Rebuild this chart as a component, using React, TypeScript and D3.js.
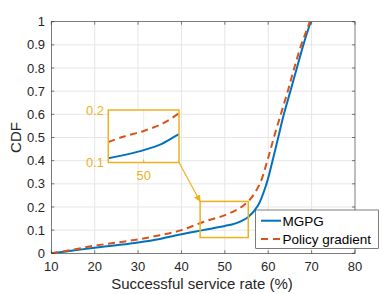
import React from "react";
import * as d3 from "d3";

const mgpgX = [10, 15, 20, 25, 30, 35, 40, 45, 50, 52.3, 55.4, 57.6, 59.6, 61, 62.3, 63.6, 65.1, 66.6, 68.1, 69.1, 69.8];
const mgpgY = [0, 0.012, 0.024, 0.035, 0.047, 0.062, 0.082, 0.1, 0.118, 0.128, 0.157, 0.205, 0.3, 0.4, 0.5, 0.6, 0.7, 0.8, 0.9, 0.96, 1.0];
const pgX = [10, 15, 20, 25, 30, 35, 40, 45, 50, 53.4, 55.7, 58.05, 59.8, 61.3, 62.9, 64.5, 66.0, 67.6, 68.8, 69.6];
const pgY = [0, 0.016, 0.033, 0.046, 0.06, 0.078, 0.1, 0.135, 0.165, 0.195, 0.23, 0.3, 0.4, 0.5, 0.6, 0.7, 0.8, 0.9, 0.96, 1.0];

const insetMgpgX = [45, 47.5, 50, 52.5, 53.7, 55];
const insetMgpgY = [0.108, 0.115, 0.1235, 0.135, 0.144, 0.154];
const insetPgX = [45, 47.1, 50, 52.8, 55];
const insetPgY = [0.139, 0.149, 0.16, 0.175, 0.194];

const xTicks = [10, 20, 30, 40, 50, 60, 70, 80];
const yTicks = [0, 0.1, 0.2, 0.3, 0.4, 0.5, 0.6, 0.7, 0.8, 0.9, 1];
const insetXTicks = [50];
const insetYTicks = [0.1, 0.2];
const zoomRectX = [44.3, 55.4];
const zoomRectY = [0.068, 0.224];
const seriesNames = ["MGPG", "Policy gradient"];

const BLUE = "#0072BD";
const ORANGE = "#D95319";
const GOLD = "#EDB120";
const AX = "#262626";
const FONT = "'Liberation Sans', Arial, Helvetica, sans-serif";

export default function App() {
  const W = 392, H = 294;
  const x = d3.scaleLinear().domain([10, 80]).range([51.3, 355]);
  const y = d3.scaleLinear().domain([0, 1]).range([253.3, 21.7]);
  const ix = d3.scaleLinear().domain([45, 55]).range([108.3, 179]);
  const iy = d3.scaleLinear().domain([0.1, 0.2]).range([162.5, 110]);

  const mk = (xs: number[], ys: number[], sx: any, sy: any) =>
    d3.line<number>().x((_, i) => sx(xs[i])).y((_, i) => sy(ys[i])).curve(d3.curveCatmullRom.alpha(0.5))(xs) || "";

  const [x0, x1] = x.range();
  const [y0, y1] = y.range();
  const rx0 = x(zoomRectX[0]), rx1 = x(zoomRectX[1]);
  const ry0 = y(zoomRectY[1]), ry1 = y(zoomRectY[0]);
  const [ixa, ixb] = ix.range();
  const [iya, iyb] = iy.range();

  return (
    <svg width={W} height={H} style={{ position: "absolute", left: 0, top: 0, background: "#fff" }} fontFamily={FONT}>
      <defs>
        <marker id="ah" viewBox="0 0 10 10" refX="9" refY="5" markerWidth="7" markerHeight="7" orient="auto-start-reverse" markerUnits="userSpaceOnUse">
          <path d="M0,0 L10,5 L0,10 z" fill={GOLD} />
        </marker>
        <clipPath id="mainclip"><rect x={x0} y={y1} width={x1 - x0} height={y0 - y1} /></clipPath>
        <clipPath id="insclip"><rect x={ixa} y={iyb} width={ixb - ixa} height={iya - iyb} /></clipPath>
      </defs>
      <rect x={x0} y={y1} width={x1 - x0} height={y0 - y1} fill="#fff" />
      {xTicks.slice(1, -1).map(t => (
        <line key={"gx" + t} x1={x(t)} x2={x(t)} y1={y0} y2={y1} stroke="#e6e6e6" strokeWidth={1} />
      ))}
      {yTicks.slice(1, -1).map(t => (
        <line key={"gy" + t} x1={x0} x2={x1} y1={y(t)} y2={y(t)} stroke="#e6e6e6" strokeWidth={1} />
      ))}
      <g clipPath="url(#mainclip)">
        <path d={mk(mgpgX, mgpgY, x, y)} fill="none" stroke={BLUE} strokeWidth={2} />
        <path d={mk(pgX, pgY, x, y)} fill="none" stroke={ORANGE} strokeWidth={2} strokeDasharray="7,4.5" />
      </g>
      <rect x={x0} y={y1} width={x1 - x0} height={y0 - y1} fill="none" stroke={AX} strokeWidth={0.6} />
      {xTicks.map(t => (
        <g key={"xt" + t}>
          <line x1={x(t)} x2={x(t)} y1={y0} y2={y0 - 3} stroke={AX} strokeWidth={0.6} />
          <line x1={x(t)} x2={x(t)} y1={y1} y2={y1 + 3} stroke={AX} strokeWidth={0.6} />
          <text x={x(t)} y={271} textAnchor="middle" fontSize={13} fill={AX}>{t}</text>
        </g>
      ))}
      {yTicks.map(t => (
        <g key={"yt" + t}>
          <line x1={x0} x2={x0 + 3} y1={y(t)} y2={y(t)} stroke={AX} strokeWidth={0.6} />
          <line x1={x1} x2={x1 - 3} y1={y(t)} y2={y(t)} stroke={AX} strokeWidth={0.6} />
          <text x={45} y={y(t)} dy="0.35em" textAnchor="end" fontSize={13} fill={AX}>{String(t)}</text>
        </g>
      ))}
      <text x={202} y={289} textAnchor="middle" fontSize={15} fill={AX}>Successful service rate (%)</text>
      <text transform={`translate(21,${(y0 + y1) / 2}) rotate(-90)`} textAnchor="middle" fontSize={15} fill={AX}>CDF</text>

      <rect x={rx0} y={ry0} width={rx1 - rx0} height={ry1 - ry0} fill="none" stroke={GOLD} strokeWidth={1.5} />
      <line x1={ixb} y1={iya} x2={rx0} y2={ry0} stroke={GOLD} strokeWidth={1.2} markerEnd="url(#ah)" />

      <rect x={ixa} y={iyb} width={ixb - ixa} height={iya - iyb} fill="#fff" />
      {insetXTicks.map(t => (
        <line key={"igx" + t} x1={ix(t)} x2={ix(t)} y1={iya} y2={iyb} stroke="#ececec" strokeWidth={1} />
      ))}
      <g clipPath="url(#insclip)">
        <path d={mk(insetMgpgX, insetMgpgY, ix, iy)} fill="none" stroke={BLUE} strokeWidth={2} />
        <path d={mk(insetPgX, insetPgY, ix, iy)} fill="none" stroke={ORANGE} strokeWidth={2} strokeDasharray="7,4.5" />
      </g>
      <rect x={ixa} y={iyb} width={ixb - ixa} height={iya - iyb} fill="none" stroke={GOLD} strokeWidth={1.5} />
      {insetXTicks.map(t => (
        <g key={"ixt" + t}>
          <line x1={ix(t)} x2={ix(t)} y1={iya} y2={iya - 3} stroke={GOLD} strokeWidth={1} />
          <text x={ix(t)} y={180} textAnchor="middle" fontSize={13} fill={GOLD}>{t}</text>
        </g>
      ))}
      {insetYTicks.map(t => (
        <text key={"iyt" + t} x={104} y={iy(t)} dy="0.35em" textAnchor="end" fontSize={13} fill={GOLD}>{String(t)}</text>
      ))}

      <rect x={255.7} y={210} width={122.6} height={38.3} fill="#fff" stroke={AX} strokeWidth={0.6} />
      <line x1={261} x2={281} y1={220.7} y2={220.7} stroke={BLUE} strokeWidth={2} />
      <text x={282.5} y={220.7} dy="0.36em" fontSize={13.5} fill="#000">{seriesNames[0]}</text>
      <line x1={261} x2={281} y1={239} y2={239} stroke={ORANGE} strokeWidth={2} strokeDasharray="7,5" />
      <text x={282.5} y={239} dy="0.36em" fontSize={13.5} fill="#000">{seriesNames[1]}</text>
    </svg>
  );
}
